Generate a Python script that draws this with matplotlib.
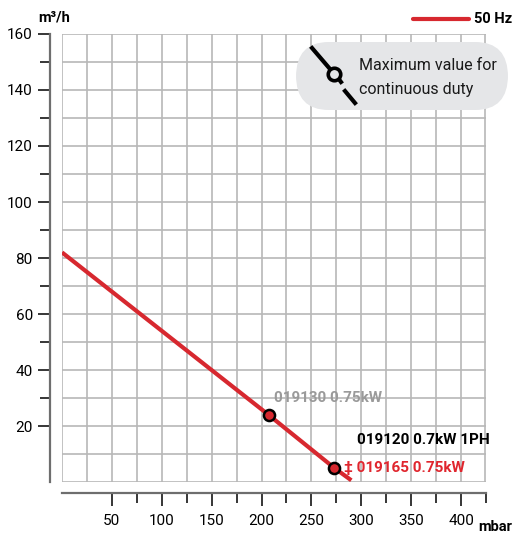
import matplotlib.pyplot as plt
from matplotlib.patches import FancyBboxPatch
from matplotlib.lines import Line2D

# curve 50 Hz
pressure = [0, 207, 273, 290]
flow = [82, 24, 5, 0.6]
# marked points
pt_pressure = [207, 273]
pt_flow = [24, 5]

x_major = [50, 100, 150, 200, 250, 300, 350, 400]
x_minor = [75, 125, 175, 225, 275, 325, 375, 425]
y_major = [20, 40, 60, 80, 100, 120, 140, 160]
y_minor = [30, 50, 70, 90, 110, 130, 150]

RED = '#d7282f'
GRID = '#b8b8b8'

plt.rcParams['font.family'] = ['Roboto', 'DejaVu Sans']

fig = plt.figure(figsize=(5.19, 5.36), dpi=100)
W, H = 519, 536
ax = fig.add_axes([62 / W, (H - 482) / H, 424 / W, 448 / H])
ax.set_xlim(0, 424)
ax.set_ylim(0, 160)

# grid lines
for gx in range(0, 425, 25):
    ax.axvline(gx, color=GRID, lw=1.2, zorder=1)
ax.axvline(424, color=GRID, lw=1.2, zorder=1)
for gy in range(0, 161, 10):
    ax.axhline(gy, color=GRID, lw=1.2, zorder=1)

ax.spines['top'].set_visible(False)
ax.spines['right'].set_visible(False)
ax.spines['left'].set_position(('outward', 9))
ax.spines['bottom'].set_position(('outward', 8))
ax.spines['left'].set_color('#6e6e6e')
ax.spines['bottom'].set_color('#6e6e6e')
ax.spines['left'].set_linewidth(1.6)
ax.spines['bottom'].set_linewidth(1.6)

ax.set_xticks(x_major)
ax.set_xticks(x_minor, minor=True)
ax.set_yticks(y_major)
ax.set_yticks(y_minor, minor=True)
ax.tick_params(which='major', length=9, width=1.1, color='black', labelsize=11)
ax.tick_params(which='minor', length=7, width=1.1, color='black')
ax.tick_params(axis='x', pad=6)
ax.tick_params(axis='y', pad=3)

ax.plot(pressure, flow, color=RED, lw=3, solid_capstyle='butt', zorder=3)
ax.plot(pt_pressure, pt_flow, 'o', ms=8, mfc=RED, mec='black', mew=1.8, zorder=4)

ax.text(212, 28.5, '019130 0.75kW', color='#9a9a9a', fontsize=11,
        fontweight='bold', zorder=5)
ax.text(296, 13.5, '019120 0.7kW 1PH', color='black', fontsize=11,
        fontweight='bold', zorder=5)
ax.text(283, 5, '‡ 019165 0.75kW', color='#e0262e', fontsize=11,
        fontweight='bold', va='center', zorder=5)

# pill annotation
pill = FancyBboxPatch((296 / W, 1 - 110 / H), 212 / W, 68 / H,
                      boxstyle='round,pad=0,rounding_size=0.063',
                      transform=fig.transFigure, fc='#e5e6e8', ec='none',
                      mutation_aspect=H / W, zorder=2)
fig.add_artist(pill)
fig.add_artist(Line2D([312 / W, 330 / W], [1 - 48 / H, 1 - 69 / H],
                      color='black', lw=3, transform=fig.transFigure, zorder=3))
fig.add_artist(Line2D([338 / W, 341 / W], [1 - 78 / H, 1 - 82 / H],
                      color='black', lw=3, transform=fig.transFigure, zorder=3))
fig.add_artist(Line2D([345 / W, 355 / W], [1 - 91 / H, 1 - 103 / H],
                      color='black', lw=3, transform=fig.transFigure, zorder=3))
fig.add_artist(Line2D([334 / W], [1 - 74 / H], marker='o', ms=9, mfc='#e5e6e8',
                      mec='black', mew=2.6, transform=fig.transFigure, zorder=4))
fig.text(359 / W, 1 - 66 / H, 'Maximum value for', fontsize=11.5,
         va='center', color='#1a1a1a', zorder=5)
fig.text(359 / W, 1 - 89 / H, 'continuous duty', fontsize=11.5,
         va='center', color='#1a1a1a', zorder=5)

# legend
fig.add_artist(Line2D([413 / W, 469 / W], [1 - 19 / H, 1 - 19 / H],
                      color=RED, lw=3, solid_capstyle='round',
                      transform=fig.transFigure))
fig.text(474 / W, 1 - 19 / H, '50 Hz', fontsize=10.5, fontweight='bold',
         va='center')

fig.text(38 / W, 1 - 18 / H, 'm³/h', fontsize=10.5, fontweight='bold',
         va='center')
fig.text(512 / W, 1 - 527 / H, 'mbar', fontsize=10.5, fontweight='bold',
         va='center', ha='right')

fig.savefig('out.png', dpi=100)
